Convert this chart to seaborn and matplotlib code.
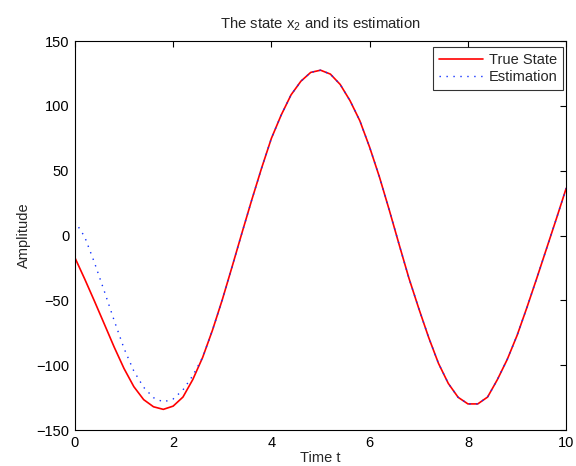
"""
State x2 vs its estimation (observer convergence plot)
"""

import matplotlib
matplotlib.use("Agg")
import matplotlib.pyplot as plt
import seaborn as sns
import pandas as pd

# time grid, step 0.2
t = [round(0.2 * i, 1) for i in range(51)]

true_state = [
    -17, -33.5, -50.7, -68.3, -86, -102.5, -116.5, -126.5, -132, -134,
    -131.5, -124.5, -111, -94, -73, -49.5, -24, 2, 27.5, 52,
    75, 93, 108.5, 119, 125.8, 127.5, 124.5, 116.5, 104, 88.5,
    68, 45, 19.5, -7, -33, -56.3, -78.5, -98.5, -114, -124.7,
    -129.8, -129.8, -124.5, -111, -95.5, -77, -55.5, -33, -10, 13,
    36.5,
]

# estimation differs only during the first ~2.6 s, then sits on the true state
est_early = [11, -1, -21, -43, -65.5, -87, -104.5, -117, -125, -128.3,
             -126, -119, -108, -94]
estimation = est_early + true_state[len(est_early):]


def main():
    sns.set_style("white")
    plt.rcParams["font.family"] = ["Liberation Sans", "DejaVu Sans"]
    plt.rcParams["mathtext.fontset"] = "custom"
    plt.rcParams["mathtext.rm"] = "Liberation Sans"
    plt.rcParams["mathtext.it"] = "Liberation Sans"

    df = pd.DataFrame({"t": t, "true": true_state, "est": estimation})

    fig = plt.figure(figsize=(5.76, 4.66), dpi=100)
    ax = fig.add_axes([0.130, 0.077, 0.853, 0.835])

    sns.lineplot(data=df, x="t", y="true", ax=ax, color="#ff0000",
                 linewidth=1.2, label="True State")
    sns.lineplot(data=df, x="t", y="est", ax=ax, color="#1030ff",
                 linewidth=1.0, linestyle=(0, (1, 4)), label="Estimation")

    ax.set_xlim(0, 10)
    ax.set_ylim(-150, 150)
    ax.set_xticks([0, 2, 4, 6, 8, 10])
    ax.set_yticks(range(-150, 151, 50))
    ax.tick_params(direction="in", top=True, right=True, length=4,
                   width=0.8, labelsize=10.5, colors="black", pad=4)
    for s in ax.spines.values():
        s.set_color("black")
        s.set_linewidth(0.8)

    ax.set_title(r"The state x$_\mathregular{2}$ and its estimation", fontsize=10.7, pad=9)
    ax.set_xlabel("Time t", fontsize=10.5, labelpad=1)
    ax.set_ylabel("Amplitude", fontsize=10.5, labelpad=4)

    leg = ax.legend(loc="upper right", bbox_to_anchor=(0.994, 0.985), borderaxespad=0,
                    fontsize=10.5, frameon=True, fancybox=False,
                    borderpad=0.4, handlelength=3.0, labelspacing=0.25,
                    handletextpad=0.4)
    leg.get_frame().set_edgecolor("black")
    leg.get_frame().set_linewidth(0.8)

    fig.savefig("out.png", dpi=100)
    plt.close(fig)


if __name__ == "__main__":
    main()
